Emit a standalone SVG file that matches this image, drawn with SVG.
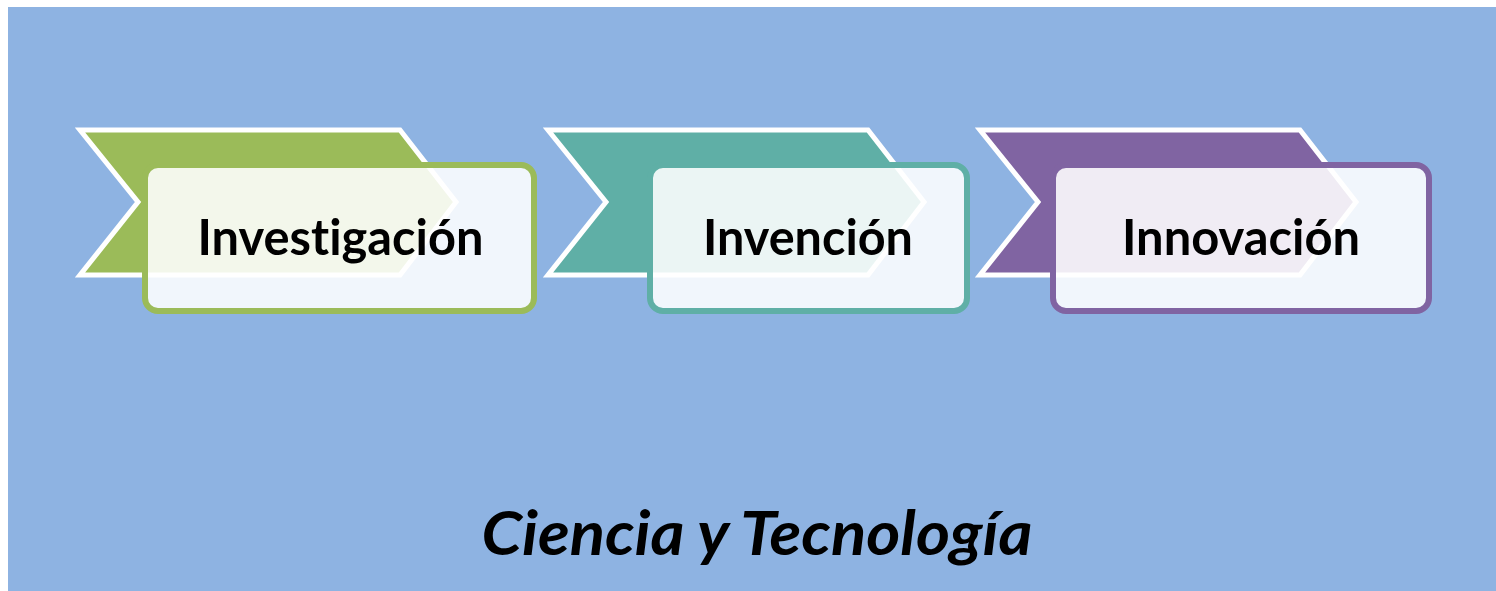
<svg xmlns="http://www.w3.org/2000/svg" width="1496" height="591" viewBox="0 0 1496 591">
<style>
.chev{stroke:#FFFFFF;stroke-width:5;stroke-linejoin:miter}
.box{fill:#FFFFFF;fill-opacity:0.88;stroke-width:6}
.lbl{font-family:Lato,"Open Sans",sans-serif;font-weight:bold;font-size:49px;fill:#000000;font-variant-ligatures:none;font-feature-settings:"liga" 0}
.title{font-family:Lato,"Open Sans",sans-serif;font-weight:bold;font-style:italic;font-size:62px;fill:#000000;font-variant-ligatures:none;font-feature-settings:"liga" 0}
</style>
<defs>
<path id="chevShape" d="M80,130 L400,130 L456,202 L400,275 L80,275 L138,202 Z"/>
</defs>
<rect x="0" y="0" width="1496" height="591" fill="#FFFFFF"/>
<rect x="8" y="7" width="1488" height="584" fill="#8EB3E2"/>
<g id="connectors"></g>
<g id="node-investigacion">
<use href="#chevShape" class="chev" fill="#9BBB59"/>
<rect class="box" x="145" y="165" width="389" height="146" rx="13" stroke="#9BBB59"/>
<text class="lbl" x="340.5" y="255" text-anchor="middle" textLength="286" lengthAdjust="spacingAndGlyphs">Investigación</text>
</g>
<g id="node-invencion">
<use href="#chevShape" class="chev" fill="#5FAFA6" transform="translate(468,0)"/>
<rect class="box" x="650" y="165" width="317" height="146" rx="13" stroke="#5FAFA6"/>
<text class="lbl" x="808" y="255" text-anchor="middle" textLength="210" lengthAdjust="spacingAndGlyphs">Invención</text>
</g>
<g id="node-innovacion">
<use href="#chevShape" class="chev" fill="#8064A2" transform="translate(900,0)"/>
<rect class="box" x="1053" y="165" width="376" height="146" rx="13" stroke="#8064A2"/>
<text class="lbl" x="1241" y="255" text-anchor="middle" textLength="238" lengthAdjust="spacingAndGlyphs">Innovación</text>
</g>
<text class="title" x="757" y="555" text-anchor="middle" textLength="551" lengthAdjust="spacingAndGlyphs">Ciencia y Tecnología</text>
</svg>
